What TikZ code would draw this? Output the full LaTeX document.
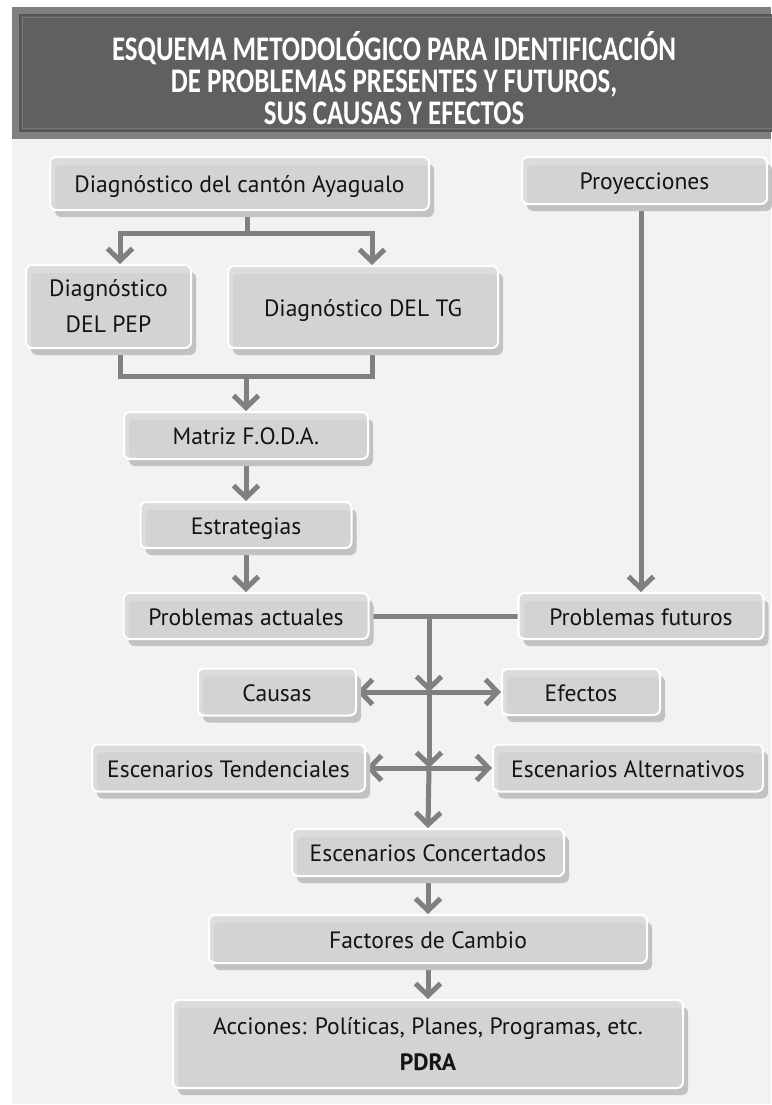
\documentclass[tikz,border=0pt]{standalone}
\usepackage{fontspec}
\setmainfont{PT Sans}
\newfontfamily\titlefont[FakeStretch=0.78]{Carlito}
\usetikzlibrary{arrows.meta,shadows}
\definecolor{bggray}{HTML}{F2F2F2}
\definecolor{bandlight}{HTML}{808080}
\definecolor{banddark}{HTML}{606060}
\definecolor{bandedge}{HTML}{565656}
\definecolor{bandline}{HTML}{787878}
\definecolor{boxlight}{HTML}{DCDCDC}
\definecolor{boxpanel}{HTML}{D3D3D3}
\definecolor{shadowgray}{HTML}{C2C2C2}
\definecolor{linegray}{HTML}{808080}
\definecolor{textgray}{HTML}{141414}
\pgfdeclarelayer{back}
\pgfdeclarelayer{lines}
\pgfsetlayers{back,lines,main}

\begin{document}
\begin{tikzpicture}[x=1pt, y=-1pt,
    box/.style={rectangle, rounded corners=6pt, draw=white, line width=2pt,
        fill=boxlight, inner sep=0pt, align=center, text=textgray,
        font=\fontsize{23.6}{36}\selectfont,
        drop shadow={shadow xshift=5pt, shadow yshift=-7pt, fill=shadowgray, opacity=1},
        path picture={\fill[boxpanel, rounded corners=4pt]
            ([shift={(5pt,1pt)}]path picture bounding box.south west) rectangle
            ([shift={(-1pt,-8pt)}]path picture bounding box.north east);}},
    oneline/.style={box, text height=20.5pt, text depth=2.5pt},
    conn/.style={draw=linegray, line width=5pt},
    arr/.style={conn, -{Straight Barb[length=12pt,width=25pt,line width=5pt]}}]
    \useasboundingbox (0,0) rectangle (771,1105);

    \begin{pgfonlayer}{back}
        \fill[bggray] (12,139) rectangle (771,1104);
        \fill[bandlight] (12,7) rectangle (771,139);
        \fill[banddark] (19,14) rectangle (780,132);
        \draw[bandedge, line width=2pt] (20,15) rectangle (780,131);
        \draw[bandline, line width=1.5pt] (22.5,17.5) rectangle (780,128.5);
    \end{pgfonlayer}

    \node[text=white, align=center, font=\titlefont\bfseries\fontsize{34.5}{32}\selectfont] (head) at (394,78)
        {ESQUEMA METODOLÓGICO PARA IDENTIFICACIÓN\\DE PROBLEMAS PRESENTES Y FUTUROS,\\SUS CAUSAS Y EFECTOS};

    \node[oneline, minimum width=379pt, minimum height=53pt] (ayag) at (239.5,183.5) {Diagnóstico del cantón Ayagualo};
    \node[oneline, minimum width=245pt, minimum height=47pt] (proy) at (644.5,180.5) {Proyecciones};
    \node[box, minimum width=165pt, minimum height=83pt] (pep) at (108.5,306.5) {Diagnóstico\\DEL PEP};
    \node[oneline, minimum width=270pt, minimum height=82pt] (tg) at (363,307) {Diagnóstico DEL TG};
    \node[oneline, minimum width=244pt, minimum height=47pt] (foda) at (246,435.5) {Matriz F.O.D.A.};
    \node[oneline, minimum width=211pt, minimum height=46pt] (estr) at (246,525) {Estrategias};
    \node[oneline, minimum width=245pt, minimum height=46pt] (pact) at (246,616) {Problemas actuales};
    \node[oneline, minimum width=245pt, minimum height=46pt] (pfut) at (641,616) {Problemas futuros};
    \node[oneline, minimum width=158pt, minimum height=47pt] (caus) at (277,692) {Causas};
    \node[oneline, minimum width=158pt, minimum height=46pt] (efec) at (581,692) {Efectos};
    \node[oneline, minimum width=273pt, minimum height=47pt] (etend) at (228.5,768) {Escenarios Tendenciales};
    \node[oneline, minimum width=270pt, minimum height=47pt] (ealt) at (628,768) {Escenarios Alternativos};
    \node[oneline, minimum width=272pt, minimum height=47pt] (econ) at (428,852.5) {Escenarios Concertados};
    \node[oneline, minimum width=438pt, minimum height=48pt] (fact) at (428,939) {Factores de Cambio};
    \node[box, minimum width=510pt, minimum height=88pt] (acc) at (428,1044)
        {Acciones: Políticas, Planes, Programas, etc.\\\textbf{PDRA}};

    \coordinate (split1) at (247,233);
    \coordinate (join1) at (246,376);
    \coordinate (hub1) at (429,616);
    \coordinate (cross1) at (429,692);
    \coordinate (cross2) at (429,768);

    \begin{pgfonlayer}{lines}
        \draw[conn] (ayag.south -| split1) -- (split1);
        \draw[arr] (split1) -| ([xshift=11.5pt]pep.north);
        \draw[arr] (split1) -| ([xshift=9pt]tg.north);
        \draw[conn] ([xshift=11.5pt]pep.south) |- (join1) -| ([xshift=9pt]tg.south);
        \draw[arr] (join1) -- (foda.north);
        \draw[arr] (foda.south) -- (estr.north);
        \draw[arr] (estr.south) -- (pact.north);
        \draw[arr] (proy.south -| pfut.north) -- (pfut.north);
        \draw[conn] (pact.east) -- (pfut.west);
        \draw[arr] (hub1) -- (cross1);
        \draw[arr] (cross1) -- (caus.east);
        \draw[arr] (cross1) -- (efec.west);
        \draw[arr] (cross1) -- (cross2);
        \draw[arr] (cross2) -- (etend.east);
        \draw[arr] (cross2) -- (ealt.west);
        \draw[arr] (cross2) -- (econ.north);
        \draw[arr] (econ.south) -- (fact.north);
        \draw[arr] (fact.south) -- (acc.north);
    \end{pgfonlayer}
\end{tikzpicture}
\end{document}
